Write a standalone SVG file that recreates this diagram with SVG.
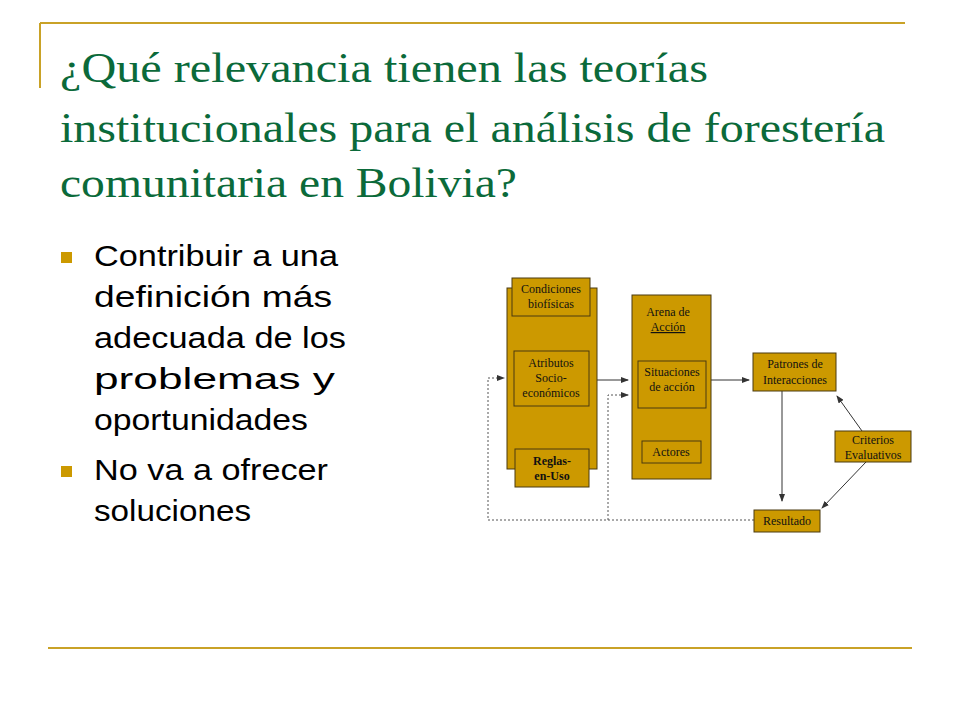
<svg xmlns="http://www.w3.org/2000/svg" width="960" height="720" viewBox="0 0 960 720">
<defs>
<style>
.t{font-family:"Liberation Serif",serif;font-size:42px;fill:#0b6a3a}
.b{font-family:"Liberation Sans",Arial,sans-serif;font-size:29px;fill:#000}
.bx{fill:#cc9900;stroke:#4a3a10;stroke-width:1}
.l{font-family:"Liberation Serif",serif;font-size:12px;fill:#111;text-anchor:middle}
.c{stroke:#333;stroke-width:1;fill:none}
.d{stroke:#555;stroke-width:1;fill:none;stroke-dasharray:2,2}
</style>
<marker id="a" markerWidth="8" markerHeight="6" refX="7" refY="3" orient="auto" markerUnits="userSpaceOnUse"><path d="M0,0L8,3L0,6z" fill="#333"/></marker>
</defs>
<rect width="960" height="720" fill="#fff"/>
<path d="M40,23H905M40,23V88" stroke="#c9a227" stroke-width="2" fill="none"/>
<path d="M48,648H912" stroke="#c9a227" stroke-width="2"/>
<text class="t" x="60" y="82" textLength="648" lengthAdjust="spacingAndGlyphs">¿Qué relevancia tienen las teorías</text>
<text class="t" x="60" y="142" textLength="825" lengthAdjust="spacingAndGlyphs">institucionales para el análisis de forestería</text>
<text class="t" x="60" y="197" textLength="457" lengthAdjust="spacingAndGlyphs">comunitaria en Bolivia?</text>
<rect x="61" y="252" width="11" height="11" fill="#cc9900"/>
<rect x="61" y="466" width="11" height="11" fill="#cc9900"/>
<text class="b" x="94" y="266" textLength="244" lengthAdjust="spacingAndGlyphs">Contribuir a una</text>
<text class="b" x="94" y="307" textLength="238" lengthAdjust="spacingAndGlyphs">definición más</text>
<text class="b" x="94" y="348" textLength="252" lengthAdjust="spacingAndGlyphs">adecuada de los</text>
<text class="b" x="94" y="389" textLength="241" lengthAdjust="spacingAndGlyphs">problemas  y</text>
<text class="b" x="94" y="430" textLength="214" lengthAdjust="spacingAndGlyphs">oportunidades</text>
<text class="b" x="94" y="480" textLength="234" lengthAdjust="spacingAndGlyphs">No va a ofrecer</text>
<text class="b" x="94" y="521" textLength="157" lengthAdjust="spacingAndGlyphs">soluciones</text>
<g id="connectors">
<path class="c" d="M597,380H628" marker-end="url(#a)"/>
<path class="c" d="M711,380H749" marker-end="url(#a)"/>
<path class="c" d="M782,391V501" marker-end="url(#a)"/>
<path class="c" d="M862,431L837,396" marker-end="url(#a)"/>
<path class="c" d="M866,462L822,508" marker-end="url(#a)"/>
<path class="d" d="M754,520H488V378H504" marker-end="url(#a)"/>
<path class="d" d="M608,520V395H628" marker-end="url(#a)"/>
</g>
<g id="left">
<rect class="bx" x="507" y="288" width="90" height="181"/>
</g>
<g id="condiciones"><rect class="bx" x="512" y="278" width="78" height="38"/><text class="l" x="551" y="293">Condiciones</text><text class="l" x="551" y="308">biofísicas</text></g>
<g id="atributos"><rect class="bx" x="514" y="351" width="75" height="55"/><text class="l" x="551" y="367">Atributos</text><text class="l" x="551" y="382">Socio-</text><text class="l" x="551" y="397">económicos</text></g>
<g id="reglas"><rect class="bx" x="515" y="449" width="74" height="38"/><text class="l" x="552" y="465" font-weight="bold">Reglas-</text><text class="l" x="552" y="480" font-weight="bold">en-Uso</text></g>
<g id="arena"><rect class="bx" x="632" y="295" width="79" height="184"/><text class="l" x="668" y="316">Arena de</text><text class="l" x="668" y="331" text-decoration="underline">Acción</text></g>
<g id="situaciones"><rect class="bx" x="638" y="361" width="68" height="47"/><text class="l" x="672" y="376">Situaciones</text><text class="l" x="672" y="391">de acción</text></g>
<g id="actores"><rect class="bx" x="642" y="441" width="59" height="22"/><text class="l" x="671" y="456">Actores</text></g>
<g id="patrones"><rect class="bx" x="753" y="353" width="83" height="38"/><text class="l" x="795" y="368">Patrones de</text><text class="l" x="795" y="384">Interacciones</text></g>
<g id="criterios"><rect class="bx" x="835" y="431" width="76" height="31"/><text class="l" x="873" y="444">Criterios</text><text class="l" x="873" y="459">Evaluativos</text></g>
<g id="resultado"><rect class="bx" x="754" y="510" width="66" height="22"/><text class="l" x="787" y="525">Resultado</text></g>
</svg>
